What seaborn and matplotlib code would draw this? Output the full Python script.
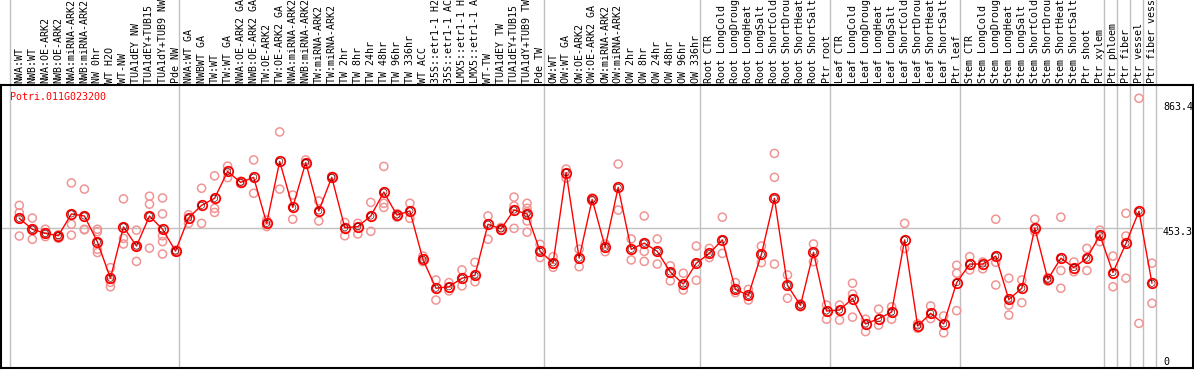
import numpy as np
import pandas as pd
import matplotlib
matplotlib.use('Agg')
import matplotlib.pyplot as plt
import matplotlib.transforms as mtransforms
import seaborn as sns

gene = 'Potri.011G023200'

samples = [
    'NWA:WT', 'NWB:WT', 'NWA:OE-ARK2', 'NWB:OE-ARK2', 'NWA:miRNA-ARK2', 'NWB:miRNA-ARK2',
    'NW 0hr', 'WT H2O', 'WT-NW', 'TUA1dEY NW', 'TUA1dEY+TUB15 NW', 'TUA1dY+TUB9 NW', 'Pde NW',
    'NWA:WT GA', 'NWBWT GA', 'TW:WT', 'TW:WT GA', 'NWA:OE-ARK2 GA', 'NWB:OE-ARK2 GA',
    'TW:OE-ARK2', 'TW:OE-ARK2 GA', 'NWA:miRNA-ARK2 GA', 'NWB:miRNA-ARK2 GA', 'TW:miRNA-ARK2',
    'TW:miRNA-ARK2 GA', 'TW 2hr', 'TW 8hr', 'TW 24hr', 'TW 48hr', 'TW 96hr', 'TW 336hr',
    'WT ACC', '35S::etr1-1 H2O', '35S::etr1-1 ACC', 'LMX5::etr1-1 H2O', 'LMX5::etr1-1 ACC',
    'WT-TW', 'TUA1dEY TW', 'TUA1dEY+TUB15 TW', 'TUA1dY+TUB9 TW', 'Pde TW',
    'OW:WT', 'OW:WT GA', 'OW:OE-ARK2', 'OW:OE-ARK2 GA', 'OW:miRNA-ARK2', 'OW:miRNA-ARK2 GA',
    'OW 2hr', 'OW 8hr', 'OW 24hr', 'OW 48hr', 'OW 96hr', 'OW 336hr',
    'Root CTR', 'Root LongCold', 'Root LongDrought', 'Root LongHeat', 'Root LongSalt',
    'Root ShortCold', 'Root ShortDrought', 'Root ShortHeat', 'Root ShortSalt', 'Ptr root',
    'Leaf CTR', 'Leaf LongCold', 'Leaf LongDrought', 'Leaf LongHeat', 'Leaf LongSalt',
    'Leaf ShortCold', 'Leaf ShortDrought', 'Leaf ShortHeat', 'Leaf ShortSalt', 'Ptr leaf',
    'Stem CTR', 'Stem LongCold', 'Stem LongDrought', 'Stem LongHeat', 'Stem LongSalt',
    'Stem ShortCold', 'Stem ShortDrought', 'Stem ShortHeat', 'Stem ShortSalt', 'Ptr shoot',
    'Ptr xylem', 'Ptr phloem', 'Ptr fiber', 'Ptr vessel', 'Ptr fiber vessel',
]

means = [
    486, 449, 435, 427, 501, 494, 406, 283, 457, 392, 494, 449, 375,
    487, 530, 554, 645, 608, 625, 469, 679, 523, 675, 511, 625, 454, 458, 494, 575,
    497, 511, 347, 249, 254, 283, 293, 466, 450, 514, 501, 374,
    335, 641, 351, 550, 388, 591, 381, 402, 374, 304, 263, 334,
    367, 413, 245, 225, 364, 554, 259, 191, 371, 172,
    175, 214, 128, 146, 168, 413, 121, 164, 128, 268,
    331, 331, 358, 211, 249, 453, 279, 351, 319, 351, 429,
    302, 401, 510, 266,
]

reps = [
    [530, 505, 426], [487, 449, 415], [449, 424, 435], [430, 418, 427], [606, 466, 429],
    [585, 449, 447], [449, 441, 381, 370], [319, 269, 254], [552, 418, 399], [446, 340, 392],
    [561, 534, 385], [555, 501, 427, 407, 365], [378, 372, 375],
    [498, 469], [588, 469], [630, 520, 506], [663, 624], [612, 604], [684, 571], [480, 458],
    [779, 585], [565, 483], [684, 670], [545, 477], [628, 622], [472, 427], [469, 433],
    [540, 442], [662, 537, 523], [502, 490], [537, 486], [358, 339], [277, 209], [268, 240],
    [311, 257], [337, 271], [494, 415], [455, 445], [558, 528, 452], [537, 520, 508, 477, 439],
    [398, 353],
    [356, 320], [653, 622], [381, 322], [555, 545], [399, 373], [670, 514], [416, 345],
    [494, 374, 340], [416, 331], [325, 274], [300, 243], [392, 276],
    [384, 353], [490, 367], [268, 234], [245, 209], [392, 336], [706, 625, 331], [294, 215],
    [196, 186], [399, 339], [192, 144],
    [192, 141], [266, 229, 151], [144, 102], [178, 124], [186, 144], [469, 384], [113, 128],
    [189, 146], [155, 98], [327, 300, 173],
    [356, 311], [338, 315], [483, 337, 260], [283, 192, 158], [277, 200], [483, 441],
    [285, 273], [490, 309, 249], [338, 305], [384, 309], [446, 407],
    [358, 254], [503, 426, 283], [893, 130], [334, 198],
]

group_edges = [0, 13, 41, 53, 63, 73, 84, 85, 86, 87, 88]
tick_values = [863.4, 453.3, 0]

sns.set_style('white')
plt.rcParams['font.family'] = ['DejaVu Sans Mono']

df_mean = pd.DataFrame({'pos': np.arange(len(samples)), 'sample': samples, 'value': means})
df_rep = pd.DataFrame([(i, v) for i, r in enumerate(reps) for v in r], columns=['pos', 'value'])

W, H = 1194, 370
fig = plt.figure(figsize=(W / 100, H / 100), dpi=100)
ax = fig.add_axes([1 / W, 2 / H, 1192 / W, 283 / H])

grid_c = '#c0c0c0'
# group separators run up through the label area
for k in group_edges:
    ax.axvline(k - 0.714, ymin=0, ymax=1.32, color=grid_c, lw=1, clip_on=False, zorder=0)
ax.axhline(453.3, xmin=0, xmax=(1162 - 1) / 1192, color=grid_c, lw=1, zorder=0)

sns.scatterplot(data=df_rep, x='pos', y='value', ax=ax, marker='o', s=34,
                facecolors='none', edgecolors='#f09494', linewidth=1.1, zorder=2, legend=False)
sns.lineplot(data=df_mean, x='pos', y='value', ax=ax, color='red', lw=1, zorder=3,
             marker='o', markersize=6.8, markerfacecolor='none', markeredgecolor='red',
             markeredgewidth=1.3)
sns.scatterplot(data=df_mean, x='pos', y='value', ax=ax, marker='o', s=20,
                facecolors='none', edgecolors='#400000', linewidth=0.45, zorder=4, legend=False)

ax.set_xlim(-1.406, 90.15)
ax.set_ylim(-21.4, 938)
ax.set_xticks([])
ax.set_yticks([])
ax.set_xlabel('')
ax.set_ylabel('')
for s in ax.spines.values():
    s.set_color('black')
    s.set_linewidth(1.5)

fs = 7.2
lab_tr = mtransforms.blended_transform_factory(ax.transData, ax.transAxes)
for i, name in enumerate(samples):
    ax.text(i, 1 + 2 / 283, name, transform=lab_tr, rotation=90, ha='center', va='bottom',
            fontsize=fs, color='black', clip_on=False)

ax.text(9 / 1192, (368 - 97) / 283, gene, transform=ax.transAxes, color='red',
        fontsize=fs, ha='left', va='center')

val_tr = mtransforms.blended_transform_factory(ax.transAxes, ax.transData)
for v in tick_values:
    off = -4 if v == 453.3 else 0
    tr = val_tr + mtransforms.ScaledTranslation(0, off / 100, fig.dpi_scale_trans)
    ax.text((1163 - 1) / 1192, v, f'{v:g}', transform=tr, fontsize=fs,
            ha='left', va='center', color='black')

fig.savefig('out.png', dpi=100)
